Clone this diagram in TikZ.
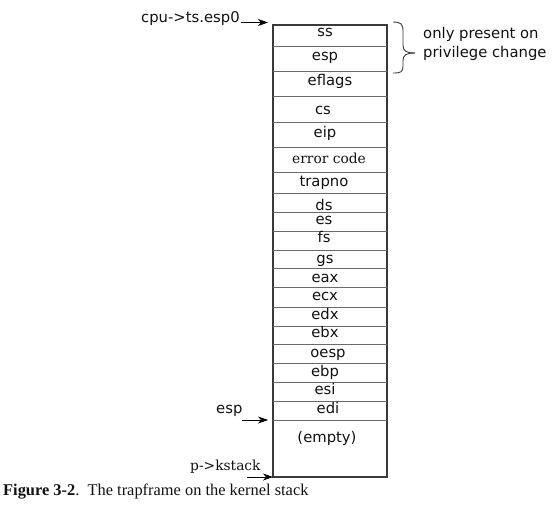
\documentclass[tikz,border=0pt]{standalone}
\usepackage{fontspec}
\setmainfont{DejaVu Sans}
\newfontfamily\serifA{DejaVu Serif}
\newfontfamily\capfont{Liberation Serif}
\usetikzlibrary{arrows.meta}
\definecolor{boxgray}{HTML}{3A3A3A}
\definecolor{divgray}{HTML}{6A6A6A}
\definecolor{txt}{HTML}{111111}
\tikzset{
  boxline/.style={draw=boxgray, line width=1.4pt},
  divline/.style={draw=divgray, line width=0.9pt},
  cell/.style={anchor=base, inner sep=0pt, text=txt, font=\fontsize{14.8}{16}\selectfont},
  scell/.style={anchor=base, inner sep=0pt, text=txt, font=\serifA\fontsize{13.8}{15}\selectfont},
  lbl/.style={anchor=base west, inner sep=0pt, text=txt, font=\fontsize{14.8}{16}\selectfont},
  ptr/.style={draw=black, line width=0.8pt, -{Stealth[length=10pt,width=7pt,inset=3pt]}},
  bracepath/.style={draw=boxgray, line width=0.9pt},
}
\begin{document}
\begin{tikzpicture}[x=1pt,y=-1pt]
\useasboundingbox (0,0) rectangle (554,509);
% stack box
\coordinate (tl) at (273,25);
\coordinate (br) at (387,477);
\draw[boxline] (tl) rectangle (br);
\foreach \yy in {46,71,96,122,147,172,193,212,231,250,268,287,307,326,344,363,382,401,420}
  \draw[divline] (273,\yy) -- (387,\yy);
% cells
\node[cell] (ss) at (325,36) {ss};
\node[cell] (esp) at (325,60) {esp};
\node[cell] (eflags) at (330,85) {eflags};
\node[cell] (cs) at (323,114) {cs};
\node[cell] (eip) at (325,137) {eip};
\node[scell] (errcode) at (329,163) {error code};
\node[cell] (trapno) at (324,186) {trapno};
\node[cell] (ds) at (324,210) {ds};
\node[cell] (es) at (324,224) {es};
\node[cell] (fs) at (324,242) {fs};
\node[cell] (gs) at (325,263) {gs};
\node[cell] (eax) at (325,282) {eax};
\node[cell] (ecx) at (325,300) {ecx};
\node[cell] (edx) at (325,319) {edx};
\node[cell] (ebx) at (325,337) {ebx};
\node[cell] (oesp) at (328,357) {oesp};
\node[cell] (ebp) at (325,376) {ebp};
\node[cell] (esi) at (325,394) {esi};
\node[cell] (edi) at (328,413) {edi};
\node[cell] (empty) at (327,442) {(empty)};
% pointers
\node[lbl] (esp0) at (141,22) {cpu->ts.esp0};
\coordinate (esp0tip) at (268,22.5);
\draw[ptr] (esp0.base east) ++(1,0.5) -- (esp0tip);
\node[lbl] (espl) at (216,413) {esp};
\coordinate (espstart) at (242,420);
\coordinate (esptip) at (268,420);
\draw[ptr] (espstart) -- (esptip);
\node[anchor=base west, inner sep=0pt, text=txt, font=\serifA\fontsize{13.8}{15}\selectfont] (kstack) at (190,470) {p->kstack};
\coordinate (kstart) at (247,477);
\coordinate (ktip) at (273,477);
\draw[ptr] (kstart) -- (ktip);
% brace
\draw[bracepath] (393,22) .. controls (401,22) and (403,24) .. (403,31) -- (403,45) .. controls (403,51) and (406,53) .. (415,53);
\draw[bracepath] (415,53) .. controls (406,53) and (403,55) .. (403,61) -- (403,66) .. controls (403,72) and (401,73) .. (393,73);
\node[lbl] (only1) at (423,38) {only present on};
\node[lbl] (only2) at (423,57) {privilege change};
% caption
\node[anchor=base west, inner sep=0pt, text=txt, font=\capfont\fontsize{16.4}{18}\selectfont] (caption) at (3,495) {\textbf{Figure 3-2}.\ \ The trapframe on the kernel stack};
\end{tikzpicture}
\end{document}
